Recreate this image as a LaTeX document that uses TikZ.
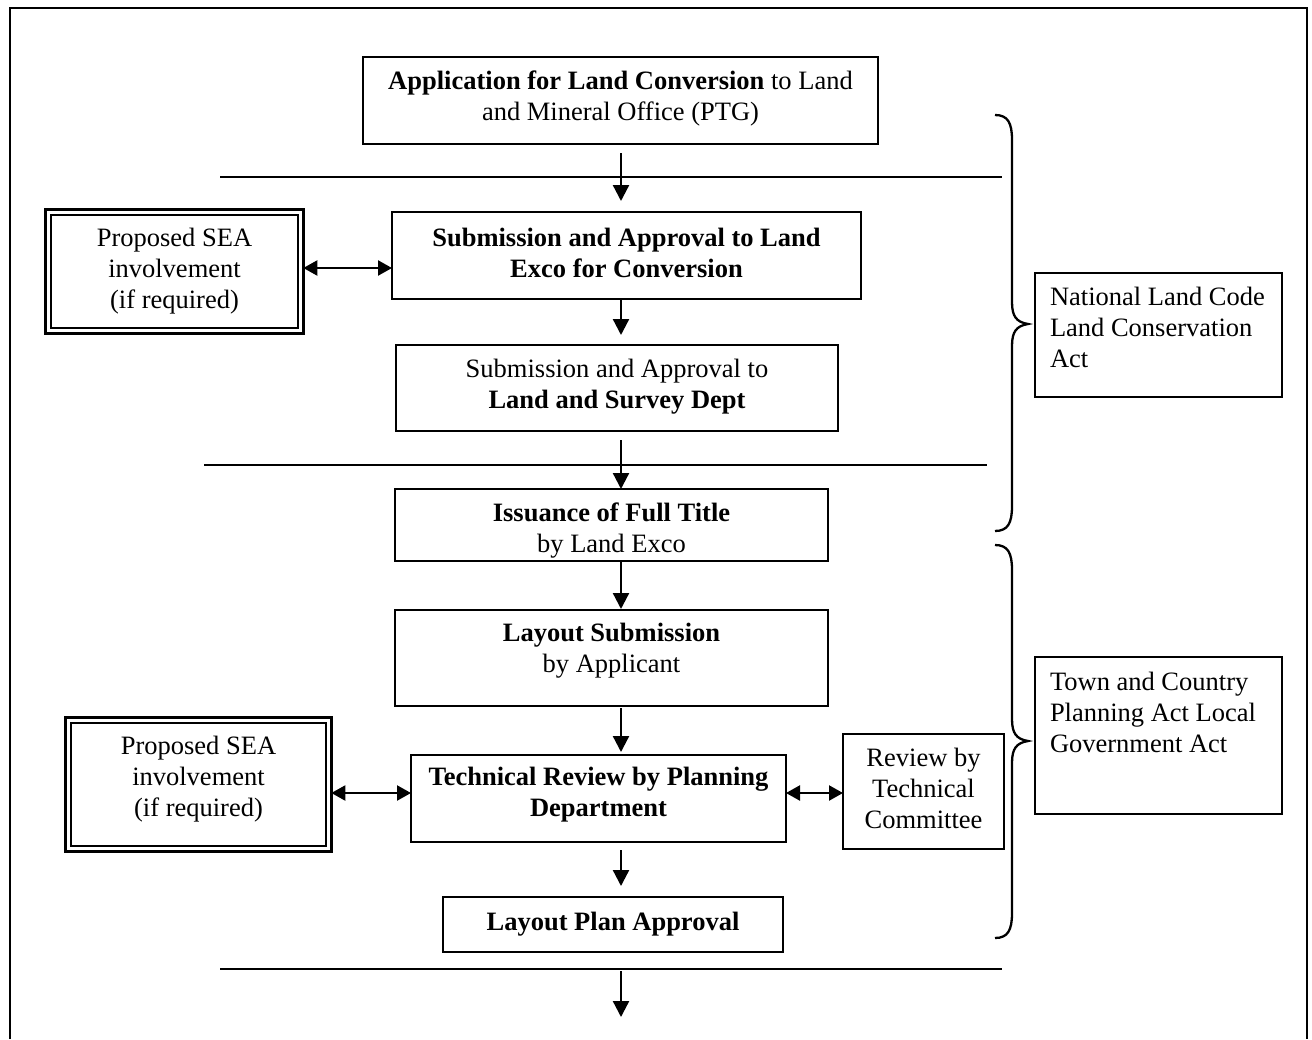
\documentclass[tikz,border=0pt]{standalone}
\usepackage{fontspec}
\setmainfont{Liberation Serif}
\usetikzlibrary{arrows.meta,calc}

% box node: name, centre, width, height, text shift, text
\newcommand\flowbox[6]{%
  \node[box,minimum width=#3pt,minimum height=#4pt,
        label={[boxtext,yshift=#5pt]center:{#6}}] (#1) at (#2) {};}

% right-hand curly brace: top, cusp, bottom
\newcommand\lawbrace[3]{%
  \draw[brace] (995,#1) .. controls (1008,#1) and (1012,#1+8) .. (1012,#1+25)
    -- (1012,#2-22) .. controls (1012,#2-8) and (1016,#2-2) .. (1028,#2)
    .. controls (1016,#2+2) and (1012,#2+8) .. (1012,#2+22)
    -- (1012,#3-25) .. controls (1012,#3-8) and (1008,#3) .. (995,#3);}

\begin{document}
\begin{tikzpicture}[x=1pt,y=-1pt,
  font=\fontsize{26.5}{31}\selectfont,
  box/.style={draw,line width=1.6pt,outer sep=0pt,inner sep=0pt},
  boxtext/.style={align=center,inner sep=0pt},
  dbox/.style={draw,line width=3.3pt,outer sep=0pt,inner sep=0pt},
  dinner/.style={line width=1.8pt},
  flow/.style={line width=2.3pt,-{Triangle[length=16pt,width=16pt]}},
  twoway/.style={line width=2.3pt,
    {Triangle[length=14pt,width=15pt]}-{Triangle[length=14pt,width=15pt]}},
  rule/.style={line width=2.8pt},
  brace/.style={line width=2.3pt},
  frame/.style={line width=2.3pt}]
\useasboundingbox (0,0) rectangle (1312,1039);

% outer frame (open at the bottom)
\draw[frame] (10,1039) -- (10,8) -- (1307,8) -- (1307,1039);

% main flow
\flowbox{b1}{620.5,100.5}{515}{87}{2}{\textbf{Application for Land Conversion} to Land\\and Mineral Office (PTG)}
\flowbox{b2}{626.5,255.5}{469}{87}{3}{\textbf{Submission and Approval to Land}\\\textbf{Exco for Conversion}}
\flowbox{b3}{617,388}{442}{86}{1.5}{Submission and Approval to\\\textbf{Land and Survey Dept}}
\flowbox{b4}{611.5,525}{433}{72}{-6}{\textbf{Issuance of Full Title}\\by Land Exco}
\flowbox{b5}{611.5,658}{433}{96}{7}{\textbf{Layout Submission}\\by Applicant}
\flowbox{b6}{598.5,798.5}{375}{87}{4}{\textbf{Technical Review by Planning}\\\textbf{Department}}
\flowbox{b7}{613,924.5}{340}{55}{0}{\textbf{Layout Plan Approval}}
\flowbox{rev}{923.5,791.5}{161}{115}{3}{Review by\\Technical\\Committee}

% SEA involvement boxes with double border
\node[dbox,minimum width=257.7pt,minimum height=123.7pt,
      label={[boxtext]center:{Proposed SEA\\involvement\\(if required)}}]
      (sea1) at (174.5,271.5) {};
\draw[dinner] ($(sea1.north west)+(5,5)$) rectangle ($(sea1.south east)+(-5,-5)$);
\node[dbox,minimum width=265.7pt,minimum height=133.7pt,
      label={[boxtext,yshift=5pt]center:{Proposed SEA\\involvement\\(if required)}}]
      (sea2) at (198.5,784.5) {};
\draw[dinner] ($(sea2.north west)+(5,5)$) rectangle ($(sea2.south east)+(-5,-5)$);

% legislation boxes
\node[box] (nlc) at (1158.5,335) {\parbox[c][124pt][t]{247pt}{\raggedright\leftskip=15pt
  \vspace*{14pt}National Land Code\\Land Conservation\\Act}};
\node[box] (tcp) at (1158.5,735.5) {\parbox[c][157pt][t]{247pt}{\raggedright\leftskip=15pt
  \vspace*{15pt}Town and Country\\Planning Act Local\\Government Act}};

% stage separators
\coordinate (r1a) at (220,177);  \coordinate (r1b) at (1002,177);
\coordinate (r2a) at (204,465);  \coordinate (r2b) at (987,465);
\coordinate (r3a) at (220,969);  \coordinate (r3b) at (1002,969);
\draw[rule] (r1a) -- (r1b);
\draw[rule] (r2a) -- (r2b);
\draw[rule] (r3a) -- (r3b);

% vertical flow arrows
\coordinate (ax) at (621,0);
\coordinate (out) at (621,1017);
\draw[flow,shorten <=9pt,shorten >=11pt] (b1.south -| ax) -- (b2.north -| ax);
\draw[flow,shorten >=10pt] (b2.south -| ax) -- (b3.north -| ax);
\draw[flow,shorten <=9pt] (b3.south -| ax) -- (b4.north -| ax);
\draw[flow,shorten >=1pt] (b4.south -| ax) -- (b5.north -| ax);
\draw[flow,shorten <=2pt,shorten >=3pt] (b5.south -| ax) -- (b6.north -| ax);
\draw[flow,shorten <=8pt,shorten >=11pt] (b6.south -| ax) -- (b7.north -| ax);
\draw[flow,shorten <=2pt] (r3a -| ax) -- (out);

% two-way links
\coordinate (ya) at (0,268);
\coordinate (yb) at (0,793);
\draw[twoway] (sea1.east |- ya) -- (b2.west |- ya);
\draw[twoway] (sea2.east |- yb) -- (b6.west |- yb);
\draw[twoway] (b6.east |- yb) -- (rev.west |- yb);

% braces grouping the stages under each act
\lawbrace{115}{324}{531}
\lawbrace{545}{741}{938}
\end{tikzpicture}
\end{document}
